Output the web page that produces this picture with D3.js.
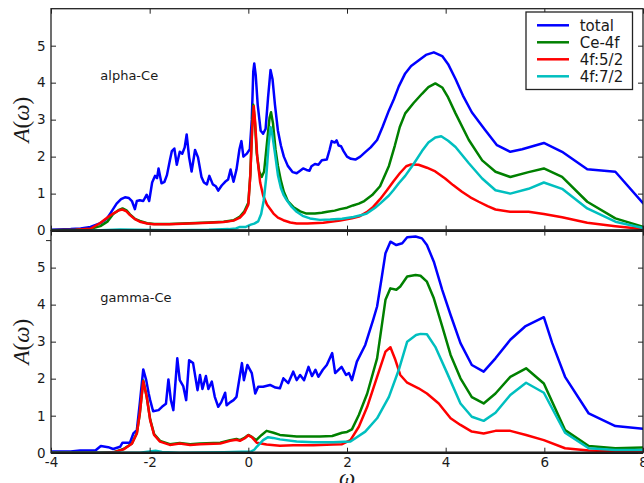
<!DOCTYPE html>
<html>
<head>
<meta charset="utf-8">
<script src="https://cdn.jsdelivr.net/npm/d3@7"></script>
<style>
  html, body { margin: 0; padding: 0; background: #fff; }
  svg { display: block; }
  text { fill: #1a1a1a; }
  .sans { font-family: "DejaVu Sans", sans-serif; }
  .math { font-family: "Liberation Serif", "DejaVu Serif", serif; }
</style>
</head>
<body>
<svg id="chart" width="644" height="483"></svg>
<script>
// Spectral function A(ω) for alpha-Ce (top) and gamma-Ce (bottom)
const xTicks = [-4, -2, 0, 2, 4, 6, 8];
const yTicks = [0, 1, 2, 3, 4, 5];
const seriesNames = ["total", "Ce-4f", "4f:5/2", "4f:7/2"];
const seriesColors = ["#0000ff", "#008000", "#ff0000", "#00bfbf"];
const panelLabels = ["alpha-Ce", "gamma-Ce"];

// alpha-Ce
const alphaTotal = [[-4.0,0.02],[-3.6,0.04],[-3.4,0.06],[-3.2,0.1],[-3.0,0.2],[-2.87,0.32],[-2.8,0.46],[-2.67,0.73],[-2.58,0.85],[-2.5,0.9],[-2.42,0.88],[-2.36,0.8],[-2.3,0.58],[-2.26,0.8],[-2.2,0.82],[-2.13,0.8],[-2.06,0.97],[-2.01,0.8],[-1.95,1.3],[-1.89,1.48],[-1.85,1.42],[-1.82,1.68],[-1.76,1.28],[-1.7,1.32],[-1.65,1.5],[-1.59,1.9],[-1.55,2.15],[-1.5,2.22],[-1.45,1.78],[-1.39,2.13],[-1.34,2.08],[-1.29,2.25],[-1.25,2.6],[-1.2,1.98],[-1.15,1.6],[-1.08,2.18],[-1.02,1.98],[-0.95,1.45],[-0.9,1.3],[-0.84,1.25],[-0.79,1.48],[-0.72,1.25],[-0.66,1.2],[-0.61,1.08],[-0.54,1.22],[-0.47,1.32],[-0.41,1.38],[-0.36,1.65],[-0.3,1.32],[-0.24,1.65],[-0.18,2.2],[-0.14,2.42],[-0.1,2.0],[-0.03,2.08],[0.03,2.2],[0.07,3.0],[0.1,4.3],[0.12,4.52],[0.15,4.2],[0.19,3.4],[0.25,2.7],[0.3,2.62],[0.35,2.75],[0.4,3.6],[0.45,4.34],[0.49,4.1],[0.54,3.4],[0.6,2.7],[0.66,2.3],[0.72,2.0],[0.8,1.75],[0.9,1.58],[0.98,1.55],[1.05,1.62],[1.11,1.68],[1.18,1.64],[1.24,1.62],[1.28,1.74],[1.35,1.8],[1.42,1.78],[1.49,1.9],[1.59,1.92],[1.65,2.2],[1.69,2.42],[1.75,2.38],[1.79,2.44],[1.83,2.3],[1.88,2.28],[1.93,2.15],[2.0,2.0],[2.08,1.94],[2.17,1.92],[2.27,2.0],[2.37,2.12],[2.48,2.25],[2.61,2.45],[2.72,2.8],[2.85,3.25],[2.95,3.55],[3.05,3.9],[3.18,4.25],[3.3,4.45],[3.45,4.6],[3.6,4.75],[3.76,4.82],[3.93,4.72],[4.05,4.5],[4.2,4.1],[4.35,3.65],[4.53,3.2],[4.67,2.95],[4.8,2.72],[5.04,2.31],[5.31,2.13],[5.55,2.2],[5.99,2.37],[6.36,2.13],[6.87,1.66],[7.44,1.59],[8.0,0.74]];
const alphaCe4f = [[-4,0.01],[-3.5,0.02],[-3.2,0.05],[-3.0,0.12],[-2.85,0.25],[-2.74,0.45],[-2.62,0.56],[-2.55,0.6],[-2.47,0.55],[-2.4,0.44],[-2.3,0.32],[-2.2,0.26],[-2.05,0.2],[-1.9,0.18],[-1.6,0.18],[-1.2,0.2],[-0.8,0.22],[-0.5,0.24],[-0.3,0.28],[-0.17,0.38],[-0.08,0.52],[0.0,0.75],[0.04,1.5],[0.08,2.9],[0.1,3.4],[0.13,3.0],[0.17,2.1],[0.22,1.6],[0.27,1.45],[0.32,1.6],[0.38,2.4],[0.43,3.05],[0.46,3.2],[0.5,2.9],[0.55,2.2],[0.6,1.75],[0.66,1.35],[0.72,1.05],[0.8,0.8],[0.91,0.64],[1.05,0.52],[1.18,0.46],[1.35,0.46],[1.49,0.48],[1.6,0.51],[1.75,0.54],[1.86,0.58],[2.0,0.62],[2.12,0.68],[2.24,0.73],[2.35,0.8],[2.51,0.96],[2.67,1.2],[2.85,1.75],[2.97,2.3],[3.07,2.8],[3.18,3.17],[3.35,3.45],[3.52,3.7],[3.65,3.88],[3.79,3.98],[3.93,3.87],[4.05,3.6],[4.2,3.17],[4.47,2.45],[4.74,1.9],[5.01,1.59],[5.31,1.45],[5.68,1.58],[5.99,1.68],[6.36,1.45],[6.87,0.78],[7.44,0.33],[8.0,0.1]];
const alpha52 = [[-4,0.01],[-3.5,0.02],[-3.2,0.05],[-3.01,0.2],[-2.85,0.36],[-2.74,0.46],[-2.62,0.55],[-2.55,0.57],[-2.47,0.52],[-2.4,0.42],[-2.3,0.31],[-2.2,0.24],[-2.05,0.19],[-1.93,0.17],[-1.6,0.17],[-1.2,0.19],[-0.8,0.21],[-0.5,0.23],[-0.3,0.27],[-0.17,0.35],[-0.08,0.48],[0.0,0.7],[0.04,1.5],[0.08,2.8],[0.11,3.36],[0.14,2.9],[0.18,2.0],[0.24,1.3],[0.3,0.95],[0.38,0.7],[0.51,0.46],[0.6,0.35],[0.71,0.28],[0.85,0.22],[0.98,0.19],[1.2,0.19],[1.52,0.21],[1.86,0.27],[2.1,0.33],[2.26,0.39],[2.4,0.5],[2.53,0.64],[2.67,0.85],[2.81,1.09],[2.94,1.33],[3.07,1.55],[3.2,1.74],[3.3,1.79],[3.45,1.78],[3.62,1.7],[3.79,1.6],[3.99,1.41],[4.15,1.23],[4.33,1.05],[4.5,0.9],[4.67,0.78],[4.85,0.66],[5.01,0.57],[5.31,0.51],[5.68,0.51],[5.99,0.45],[6.36,0.36],[6.87,0.21],[7.44,0.12],[8.0,0.04]];
const alpha72 = [[-4,0.0],[-3.0,0.01],[-2.6,0.03],[-2.3,0.02],[-1.5,0.01],[-0.8,0.02],[-0.4,0.04],[-0.25,0.06],[-0.17,0.1],[-0.05,0.1],[0.05,0.16],[0.12,0.19],[0.2,0.25],[0.26,0.45],[0.31,0.8],[0.36,1.4],[0.41,2.3],[0.45,2.8],[0.48,2.65],[0.54,2.09],[0.6,1.5],[0.66,1.15],[0.72,0.95],[0.78,0.82],[0.88,0.64],[0.98,0.51],[1.1,0.4],[1.25,0.33],[1.45,0.29],[1.66,0.3],[1.9,0.32],[2.13,0.37],[2.3,0.42],[2.4,0.46],[2.57,0.62],[2.67,0.73],[2.85,0.95],[2.94,1.09],[3.05,1.28],[3.18,1.48],[3.35,1.8],[3.52,2.15],[3.65,2.38],[3.79,2.52],[3.91,2.55],[4.05,2.43],[4.2,2.26],[4.47,1.82],[4.74,1.41],[5.01,1.09],[5.31,1.0],[5.68,1.13],[5.99,1.3],[6.36,1.13],[6.87,0.6],[7.44,0.24],[8.0,0.07]];

// gamma-Ce
const gammaTotal = [[-4,0.03],[-3.6,0.03],[-3.41,0.06],[-3.1,0.06],[-2.99,0.18],[-2.84,0.15],[-2.74,0.1],[-2.6,0.16],[-2.55,0.27],[-2.4,0.27],[-2.33,0.52],[-2.26,0.61],[-2.2,1.34],[-2.13,2.25],[-2.07,1.96],[-2.02,1.6],[-1.99,1.42],[-1.93,1.12],[-1.82,1.15],[-1.75,1.24],[-1.67,1.32],[-1.62,1.98],[-1.57,1.42],[-1.52,1.15],[-1.44,2.55],[-1.39,1.96],[-1.32,1.8],[-1.26,1.42],[-1.2,2.5],[-1.12,2.42],[-1.03,1.69],[-0.98,2.1],[-0.93,1.72],[-0.86,2.07],[-0.81,1.72],[-0.74,1.92],[-0.68,1.51],[-0.61,1.24],[-0.55,1.36],[-0.47,1.62],[-0.44,1.28],[-0.37,1.36],[-0.3,1.42],[-0.24,1.51],[-0.13,2.42],[-0.09,1.96],[-0.02,2.37],[0.07,2.15],[0.14,1.6],[0.2,1.78],[0.3,1.78],[0.44,1.83],[0.55,1.76],[0.64,1.74],[0.71,2.01],[0.81,1.88],[0.91,2.19],[0.98,1.96],[1.05,2.1],[1.13,1.96],[1.22,2.32],[1.29,2.07],[1.36,2.24],[1.42,2.05],[1.51,2.24],[1.59,2.37],[1.7,2.69],[1.76,2.15],[1.89,2.32],[1.98,2.1],[2.04,2.15],[2.1,1.96],[2.2,2.46],[2.37,2.91],[2.53,3.59],[2.61,3.95],[2.7,4.7],[2.78,5.39],[2.88,5.7],[3.0,5.61],[3.12,5.66],[3.22,5.82],[3.39,5.84],[3.52,5.79],[3.62,5.61],[3.76,5.16],[3.93,4.4],[4.1,3.72],[4.3,2.96],[4.53,2.37],[4.77,2.19],[5.01,2.55],[5.31,3.05],[5.61,3.41],[5.99,3.66],[6.16,2.96],[6.42,2.05],[6.9,1.06],[7.44,0.72],[8.0,0.65]];
const gammaCe4f = [[-4,0],[-3.0,0.0],[-2.74,0.01],[-2.53,0.1],[-2.36,0.25],[-2.26,0.53],[-2.2,1.06],[-2.13,1.95],[-2.06,1.51],[-1.99,0.9],[-1.91,0.5],[-1.79,0.32],[-1.59,0.23],[-1.39,0.26],[-1.18,0.23],[-0.98,0.25],[-0.57,0.27],[-0.37,0.34],[-0.24,0.37],[-0.17,0.34],[-0.07,0.41],[0.0,0.48],[0.07,0.43],[0.16,0.34],[0.27,0.48],[0.37,0.59],[0.51,0.54],[0.64,0.48],[0.98,0.44],[1.18,0.44],[1.45,0.44],[1.7,0.45],[1.9,0.54],[2.0,0.56],[2.1,0.63],[2.24,1.02],[2.41,1.6],[2.61,2.55],[2.78,4.13],[2.88,4.44],[3.0,4.4],[3.08,4.49],[3.22,4.76],[3.39,4.8],[3.49,4.78],[3.62,4.62],[3.76,4.17],[3.93,3.41],[4.1,2.64],[4.3,2.01],[4.53,1.5],[4.77,1.33],[5.01,1.6],[5.31,2.05],[5.63,2.28],[5.99,1.87],[6.42,0.61],[6.9,0.18],[7.44,0.12],[8.0,0.14]];
const gamma52 = [[-4,0],[-3.0,0.0],[-2.74,0.01],[-2.53,0.09],[-2.36,0.24],[-2.26,0.52],[-2.2,1.06],[-2.13,1.93],[-2.06,1.51],[-1.99,0.88],[-1.91,0.48],[-1.79,0.3],[-1.59,0.21],[-1.39,0.25],[-1.18,0.21],[-0.98,0.23],[-0.57,0.25],[-0.37,0.32],[-0.24,0.35],[-0.17,0.32],[-0.07,0.39],[0.0,0.47],[0.07,0.42],[0.17,0.27],[0.37,0.22],[0.64,0.19],[0.91,0.2],[1.32,0.2],[1.72,0.22],[1.9,0.23],[2.07,0.34],[2.24,0.7],[2.41,1.24],[2.61,2.05],[2.78,2.73],[2.88,2.85],[2.98,2.51],[3.08,2.1],[3.22,1.89],[3.45,1.74],[3.62,1.6],[3.86,1.33],[4.1,0.93],[4.3,0.75],[4.53,0.57],[4.77,0.52],[5.01,0.59],[5.31,0.59],[5.63,0.48],[5.99,0.34],[6.42,0.12],[6.9,0.06],[7.44,0.04],[8.0,0.04]];
const gamma72 = [[-4,0],[-2.2,0.0],[-2.0,0.03],[-1.88,0.05],[-1.75,0.02],[-1.4,0.0],[-0.5,0.01],[0.05,0.03],[0.12,0.08],[0.17,0.16],[0.3,0.34],[0.4,0.42],[0.5,0.4],[0.64,0.36],[0.98,0.3],[1.32,0.28],[1.72,0.28],[2.07,0.3],[2.2,0.42],[2.37,0.57],[2.61,0.93],[2.85,1.51],[3.05,2.24],[3.22,3.0],[3.4,3.18],[3.49,3.21],[3.62,3.2],[3.79,2.86],[4.03,2.15],[4.3,1.33],[4.53,0.97],[4.77,0.86],[5.01,1.08],[5.31,1.56],[5.63,1.89],[5.99,1.62],[6.42,0.54],[6.9,0.12],[7.44,0.07],[8.0,0.07]];

const panels = [
  { label: panelLabels[0], series: [alphaTotal, alphaCe4f, alpha52, alpha72], top: 8.7, bottom: 230.6, legend: true },
  { label: panelLabels[1], series: [gammaTotal, gammaCe4f, gamma52, gamma72], top: 230.6, bottom: 452.7, legend: false }
];

const svg = d3.select("#chart");
const left = 51, right = 643;
const x = d3.scaleLinear().domain([-4, 8]).range([left, right]);

panels.forEach((p, i) => {
  const y = d3.scaleLinear().domain([0, 6]).range([p.bottom, p.top]);
  const g = svg.append("g");

  g.append("clipPath").attr("id", "clip" + i)
    .append("rect").attr("x", left).attr("y", p.top)
    .attr("width", right - left).attr("height", p.bottom - p.top);

  const line = d3.line().x(d => x(d[0])).y(d => y(d[1]));
  const plot = g.append("g").attr("clip-path", `url(#clip${i})`);
  p.series.forEach((s, k) => {
    plot.append("path").datum(s)
      .attr("d", line)
      .attr("fill", "none")
      .attr("stroke", seriesColors[k])
      .attr("stroke-width", 2.5)
      .attr("stroke-linejoin", "round")
      .attr("stroke-linecap", "round");
  });

  // zero line
  g.append("line")
    .attr("x1", left).attr("x2", right)
    .attr("y1", y(0)).attr("y2", y(0))
    .attr("stroke", "#111").attr("stroke-width", 2.6);

  // panel annotation
  g.append("text").attr("class", "sans")
    .attr("x", x(-3.0)).attr("y", y(4.06))
    .style("font-size", "13px")
    .text(p.label);

  // y axes (ticks point inward)
  const yl = g.append("g").attr("transform", `translate(${left},0)`)
    .call(d3.axisLeft(y).tickValues(yTicks).tickSize(-5).tickPadding(5.5).tickFormat(d3.format("d")));
  yl.select(".domain").remove();
  yl.selectAll("text").attr("class", "sans").style("font-size", "13.5px").attr("fill", "#1a1a1a");
  yl.selectAll("line").attr("stroke", "#222");

  const yr = g.append("g").attr("transform", `translate(${right},0)`)
    .call(d3.axisRight(y).tickValues(yTicks).tickSize(-5).tickFormat(""));
  yr.select(".domain").remove();
  yr.selectAll("line").attr("stroke", "#222");

  // x ticks on the top and bottom edges of the panel
  const xt = g.append("g").attr("transform", `translate(0,${p.top})`)
    .call(d3.axisTop(x).tickValues(xTicks).tickSize(-5).tickFormat(""));
  xt.select(".domain").remove();
  xt.selectAll("line").attr("stroke", "#222");

  const xb = g.append("g").attr("transform", `translate(0,${p.bottom})`)
    .call(d3.axisBottom(x).tickValues(xTicks).tickSize(-5).tickPadding(5)
      .tickFormat(i === 1 ? d3.format("d") : ""));
  xb.select(".domain").remove();
  xb.selectAll("line").attr("stroke", "#222");
  xb.selectAll("text").attr("class", "sans").style("font-size", "13.5px").attr("fill", "#1a1a1a")
    .text(d => i === 1 ? String(d) : "");

  // frame
  g.append("rect")
    .attr("x", left).attr("y", p.top)
    .attr("width", right - left).attr("height", p.bottom - p.top)
    .attr("fill", "none").attr("stroke", "#222").attr("stroke-width", 1.3);

  // y label A(ω)
  const cy = (p.top + p.bottom) / 2;
  const yt = g.append("text").attr("class", "math")
    .attr("transform", `translate(29,${cy}) rotate(-90)`)
    .attr("text-anchor", "middle")
    .style("font-size", "23px");
  yt.append("tspan").style("font-style", "italic").text("A");
  yt.append("tspan").text("(");
  yt.append("tspan").style("font-style", "italic").text("ω");
  yt.append("tspan").text(")");

  if (i === 1) {
    // small outward tick on the left spine just below the panel join
    g.append("line")
      .attr("x1", left - 5).attr("x2", left)
      .attr("y1", y(5.73)).attr("y2", y(5.73))
      .attr("stroke", "#222").attr("stroke-width", 1);
  }

  if (p.legend) {
    const lg = g.append("g");
    lg.append("rect")
      .attr("x", 526).attr("y", 12).attr("width", 106.5).attr("height", 77.5)
      .attr("fill", "#fff").attr("stroke", "#222").attr("stroke-width", 1.3);
    seriesNames.forEach((name, k) => {
      const ly = 25.3 + k * 17;
      lg.append("line")
        .attr("x1", 537).attr("x2", 569)
        .attr("y1", ly).attr("y2", ly)
        .attr("stroke", seriesColors[k]).attr("stroke-width", 2.5);
      lg.append("text").attr("class", "sans")
        .attr("x", 579.7).attr("y", ly + 5.6)
        .style("font-size", "15px")
        .attr("fill", "#111")
        .text(name);
    });
  }
});

// x label
svg.append("text").attr("class", "math")
  .attr("x", (left + right) / 2).attr("y", 485)
  .attr("text-anchor", "middle")
  .style("font-size", "23px")
  .style("font-style", "italic")
  .text("ω");
</script>
</body>
</html>
